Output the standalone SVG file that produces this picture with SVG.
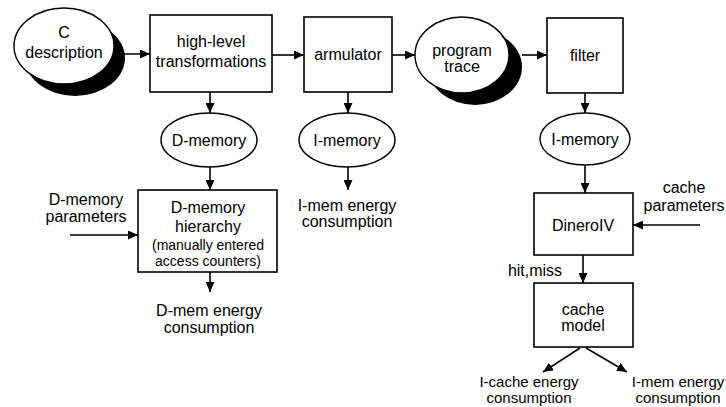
<svg xmlns="http://www.w3.org/2000/svg" width="726" height="407" viewBox="0 0 726 407">
<defs>
<marker id="ah" markerUnits="userSpaceOnUse" markerWidth="11" markerHeight="9" refX="10" refY="4.5" orient="auto">
<path d="M0,0 L10,4.5 L0,9 z" fill="#000"/>
</marker>
</defs>
<style>
text{font-family:"Liberation Sans",Arial,sans-serif;font-size:16px;fill:#000;text-anchor:middle}
.s{font-size:14px}
.b{font-size:15px}
.box{fill:#fff;stroke:#000;stroke-width:1.6}
.ell{fill:#fff;stroke:#000;stroke-width:1.4}
.sh{fill:#000}
.c{stroke:#000;stroke-width:1.6;fill:none;marker-end:url(#ah)}
</style>
<rect width="726" height="407" fill="#fff"/>
<g id="c-description">
<ellipse class="sh" cx="75" cy="58" rx="50" ry="38"/>
<ellipse class="ell" cx="64" cy="46" rx="50" ry="38"/>
<text x="64" y="38">C</text>
<text x="64" y="58">description</text>
</g>
<g id="high-level">
<rect class="box" x="150" y="15" width="122" height="77"/>
<text x="211" y="47">high-level</text>
<text x="211" y="67">transformations</text>
</g>
<g id="armulator">
<rect class="box" x="304" y="17" width="88" height="75"/>
<text x="348" y="60">armulator</text>
</g>
<g id="program-trace">
<ellipse class="sh" cx="475" cy="67" rx="47" ry="38"/>
<ellipse class="ell" cx="462" cy="55" rx="47" ry="38"/>
<text x="462" y="56">program</text>
<text x="462" y="72">trace</text>
</g>
<g id="filter">
<rect class="box" x="547" y="18" width="76" height="75"/>
<text x="585" y="61">filter</text>
</g>
<g id="d-memory">
<ellipse class="ell" cx="209" cy="140" rx="48" ry="27"/>
<text x="209" y="146">D-memory</text>
</g>
<g id="i-memory-mid">
<ellipse class="ell" cx="347" cy="140" rx="48" ry="27"/>
<text x="347" y="146">I-memory</text>
</g>
<g id="i-memory-right">
<ellipse class="ell" cx="585" cy="139" rx="45" ry="26"/>
<text x="585" y="145">I-memory</text>
</g>
<g id="d-memory-params">
<text x="86" y="205">D-memory</text>
<text x="86" y="222">parameters</text>
</g>
<g id="d-memory-hierarchy">
<rect class="box" x="138" y="190" width="139" height="82"/>
<text x="208" y="213">D-memory</text>
<text x="208" y="232">hierarchy</text>
<text class="s" x="208" y="250">(manually entered</text>
<text class="s" x="208" y="266">access counters)</text>
</g>
<g id="d-mem-energy">
<text x="209" y="316">D-mem energy</text>
<text x="209" y="333">consumption</text>
</g>
<g id="i-mem-energy-mid">
<text x="347" y="211">I-mem energy</text>
<text x="347" y="227">consumption</text>
</g>
<g id="dinero">
<rect class="box" x="534" y="193" width="99" height="62"/>
<text x="583" y="231">DineroIV</text>
</g>
<g id="cache-params">
<text x="684" y="193">cache</text>
<text x="684" y="211">parameters</text>
</g>
<g id="hit-miss">
<text x="535" y="276">hit,miss</text>
</g>
<g id="cache-model">
<rect class="box" x="534" y="283" width="99" height="64"/>
<text x="583" y="315">cache</text>
<text x="583" y="331">model</text>
</g>
<g id="i-cache-energy">
<text class="b" x="529" y="387">I-cache energy</text>
<text class="b" x="529" y="403">consumption</text>
</g>
<g id="i-mem-energy-right">
<text class="b" x="678" y="387">I-mem energy</text>
<text class="b" x="678" y="403">consumption</text>
</g>
<g id="connectors">
<line class="c" x1="114" y1="54" x2="150" y2="54"/>
<line class="c" x1="272" y1="55" x2="304" y2="55"/>
<line class="c" x1="392" y1="55" x2="415" y2="55"/>
<line class="c" x1="522" y1="55" x2="547" y2="55"/>
<line class="c" x1="210" y1="92" x2="210" y2="113"/>
<line class="c" x1="210" y1="167" x2="210" y2="190"/>
<line class="c" x1="70" y1="235" x2="138" y2="235"/>
<line class="c" x1="210" y1="272" x2="210" y2="292"/>
<line class="c" x1="348" y1="92" x2="348" y2="113"/>
<line class="c" x1="348" y1="167" x2="348" y2="190"/>
<line class="c" x1="585" y1="93" x2="585" y2="113"/>
<line class="c" x1="585" y1="165" x2="585" y2="193"/>
<line class="c" x1="700" y1="225" x2="633" y2="225"/>
<line class="c" x1="583" y1="255" x2="583" y2="283"/>
<line class="c" x1="580" y1="348" x2="543" y2="372"/>
<line class="c" x1="586" y1="348" x2="627" y2="372"/>
</g>
</svg>
